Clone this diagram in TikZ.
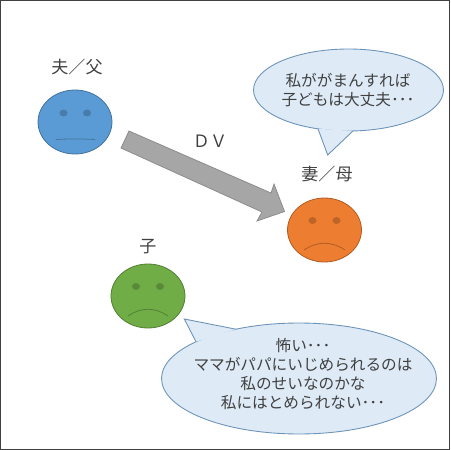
\documentclass[tikz,border=0pt]{standalone}
\usepackage{fontspec}
\setmainfont{Noto Sans CJK JP}
\usetikzlibrary{positioning,shapes.geometric}

\begin{document}
\begin{tikzpicture}[
    x=0.02cm, y=-0.02cm,
    face/.style={
        ellipse, draw, line width=0.45pt, inner sep=0pt,
        minimum width=1.48cm, minimum height=1.28cm
    },
    eye/.style={
        ellipse, fill=black, opacity=0.2, inner sep=0pt,
        minimum width=0.16cm, minimum height=0.14cm
    },
    mouth/.style={draw=black, opacity=0.25, line width=0.45pt},
    label/.style={font=\fontsize{9.7}{11}\selectfont, text=black!75},
    bubble/.style={
        ellipse, draw=bubbleline, fill=bubblefill, line width=0.5pt,
        inner sep=0pt
    },
    speech/.style={
        align=center, text=black!75, inner sep=0pt,
        font=\fontsize{8.9}{10.8}\selectfont
    },
    tail/.style={draw=bubbleline, line width=0.5pt}
]
\definecolor{bubbleline}{HTML}{6C93B8}
\definecolor{bubblefill}{HTML}{DEEBF7}
\useasboundingbox (0,0) rectangle (450,450);
\draw[draw=black!75, line width=0.6pt] (0.5,0.5) rectangle (449.5,449.5);

% faces
\node[face, fill={rgb,255:red,91;green,155;blue,213}, draw={rgb,255:red,65;green,113;blue,156}] (father) at (75,122) {};
\node[face, fill={rgb,255:red,237;green,125;blue,49}, draw={rgb,255:red,174;green,90;blue,33}] (mother) at (324.5,230) {};
\node[face, fill={rgb,255:red,112;green,173;blue,71}, draw={rgb,255:red,80;green,126;blue,50}] (child) at (148,296) {};

\node[eye] (fatherL) at (63.5,113) {};
\node[eye] (fatherR) at (87,113) {};
\node[eye] (motherL) at (312.5,220.5) {};
\node[eye] (motherR) at (336.5,220.5) {};
\node[eye] (childL) at (136,286.5) {};
\node[eye] (childR) at (160,286.5) {};

\draw[mouth] (56,139.5) .. controls (68,138.8) and (83,138.8) .. (95,139.5);
\draw[mouth] (304,250) .. controls (317,241) and (332,241) .. (345,250);
\draw[mouth] (128,316) .. controls (141,307) and (155,307) .. (168,316);

% names
\node[label, above=0.16cm of father, xshift=0.04cm] (fatherName) {夫／父};
\node[label, above=0.18cm of mother, xshift=0.05cm] (motherName) {妻／母};
\node[label, above=0.06cm of child] (childName) {子};

% DV arrow
\node[label] (dv) at (210,141) {ＤＶ};
\draw[fill=black!35, draw=black!45, line width=0.45pt]
    (129,131) -- (271,193) -- (274,184) -- (284.5,211.5)
    -- (257,221) -- (262,212) -- (121,148) -- cycle;

% speech
\node[bubble, minimum width=3.8cm, minimum height=1.64cm] (motherBubble) at (348.5,90) {};
\coordinate (motherTip) at (327.7,155);
\coordinate (motherBaseL) at (318,128.8);
\coordinate (motherBaseR) at (353,130.9);
\fill[bubblefill] (motherBaseL) -- (motherTip) -- (motherBaseR) -- cycle;
\draw[tail] (motherBaseL) -- (motherTip) -- (motherBaseR);
\node[speech] (motherSpeech) at (348,90)
    {私ががまんすれば\\子どもは大丈夫･･･};

\node[bubble, minimum width=5.5cm, minimum height=2.22cm] (childBubble) at (299,378.5) {};
\coordinate (childTip) at (184.3,319);
\coordinate (childBaseL) at (196,341.7);
\coordinate (childBaseR) at (236,329.2);
\fill[bubblefill] (childBaseL) -- (childTip) -- (childBaseR) -- cycle;
\draw[tail] (childBaseL) -- (childTip) -- (childBaseR);
\node[speech] (childSpeech) at (303,374)
    {怖い･･･\\ママがパパにいじめられるのは\\私のせいなのかな\\私にはとめられない･･･};
\end{tikzpicture}
\end{document}
